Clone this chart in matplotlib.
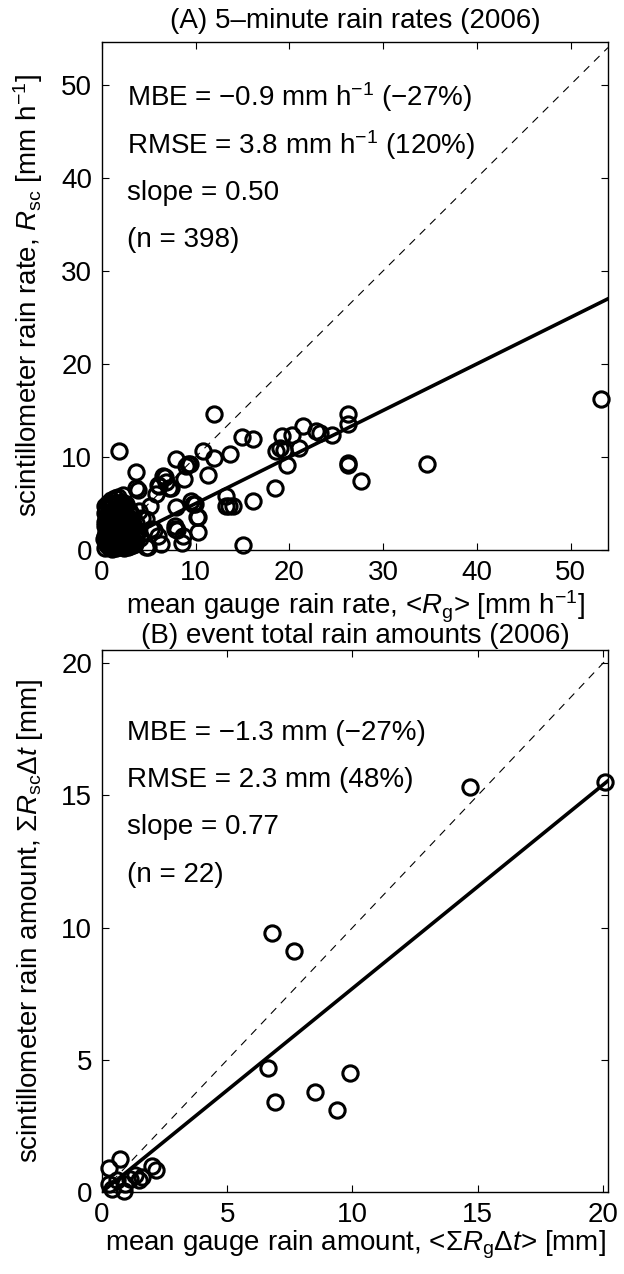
import numpy as np
import matplotlib
matplotlib.use('Agg')
import matplotlib.pyplot as plt

plt.rcParams['font.family'] = ['Liberation Sans', 'DejaVu Sans']
plt.rcParams['mathtext.fontset'] = 'custom'
plt.rcParams['mathtext.rm'] = 'Liberation Sans'
plt.rcParams['mathtext.it'] = 'Liberation Sans:italic'
plt.rcParams['axes.unicode_minus'] = True

# (A) 5-minute rain rates: gauge <Rg> vs scintillometer Rsc [mm/h]
rate_gauge = [
    # scattered points
    53.3, 34.7, 27.6, 26.3, 26.3, 26.3, 26.3, 24.5, 23.3, 22.8, 21.5, 21.0,
    20.3, 19.7, 19.4, 19.2, 19.0, 18.6, 18.5, 16.1, 16.1, 15.0, 14.9, 14.0,
    13.7, 13.6, 13.2, 13.2, 12.0, 11.9, 11.3, 10.8, 10.25, 10.25, 10.1, 9.9,
    9.7, 9.5, 9.4, 9.2, 9.0, 8.8, 8.6, 8.5, 8.0, 7.9, 7.9, 7.75, 7.75, 7.4,
    7.2, 6.8, 6.7, 6.5, 6.3, 6.1, 6.0, 6.0, 5.8, 5.6, 5.25, 5.1, 4.9, 4.7,
    4.7, 3.8, 3.6, 3.6, 1.85, 1.7,
    # dense cluster near the origin
    0.3, 0.7, 1.1, 1.5, 1.9, 2.3, 2.8, 3.3,
    0.5, 0.9, 1.3, 1.7, 2.1, 2.6, 3.0, 3.5,
    0.4, 0.9, 1.3, 1.8, 2.2, 2.7, 3.1, 3.6,
    0.2, 0.6, 1.0, 1.5, 1.9, 2.4, 2.9, 3.4,
    0.3, 0.6, 1.0, 1.4, 1.9, 2.4, 2.9, 3.5,
    0.4, 0.8, 1.2, 1.6, 2.0, 2.5, 3.0, 3.7,
    0.5, 0.9, 1.2, 1.7, 2.1, 2.6, 3.2, 3.8,
    0.3, 0.7, 1.1, 1.5, 2.0, 2.4, 2.9, 3.4,
    0.3, 0.7, 1.1, 1.6, 2.0, 2.5, 3.0, 3.6,
    0.4, 0.8, 1.2, 1.7, 2.1, 2.6, 3.1,
    0.5, 0.9, 1.3, 1.8, 2.2, 2.8, 3.3,
    0.3, 0.7, 1.0, 1.5, 2.0, 2.5, 3.0,
    0.4, 0.8, 1.2, 1.7, 2.3, 2.9,
    0.3, 0.7, 1.1, 1.5, 2.0, 2.4,
    0.6, 1.1, 1.6, 2.1, 2.6, 1.4, 2.2, 1.0, 4.1, 4.3, 3.9,
]
rate_scint = [
    16.2, 9.2, 7.4, 14.6, 13.5, 9.4, 9.1, 12.4, 12.6, 12.8, 13.3, 11.0,
    12.4, 9.1, 10.8, 12.25, 11.0, 10.6, 6.7, 11.9, 5.3, 0.57, 12.1, 4.75,
    10.3, 4.75, 5.8, 4.75, 14.6, 9.9, 8.1, 10.6, 3.5, 1.9, 3.5, 4.9,
    4.9, 5.3, 9.2, 9.2, 9.0, 7.6, 1.5, 0.8, 2.1, 9.75, 4.6, 2.25, 2.6, 6.7,
    6.7, 7.3, 7.8, 8.0, 0.64, 6.9, 7.0, 1.5, 6.0, 2.1, 2.25, 4.75, 0.3, 3.3,
    0.3, 6.5, 8.4, 6.7, 10.6, 5.65,
    0.2, 0.3, 0.1, 0.2, 0.3, 0.2, 0.3, 0.5,
    0.5, 0.6, 0.4, 0.5, 0.6, 0.5, 0.4, 0.6,
    0.8, 0.9, 0.7, 0.8, 0.9, 0.8, 0.7, 1.2,
    1.2, 1.1, 1.2, 1.1, 1.2, 1.1, 1.2, 1.0,
    1.5, 1.4, 1.6, 1.5, 1.4, 1.6, 1.5, 1.6,
    1.9, 1.8, 1.9, 1.8, 1.9, 1.8, 1.9, 1.8,
    2.2, 2.3, 2.1, 2.2, 2.3, 2.2, 2.1, 2.0,
    2.6, 2.6, 2.5, 2.6, 2.5, 2.6, 2.5, 2.6,
    3.0, 2.9, 3.1, 3.0, 2.9, 3.1, 3.0, 2.9,
    3.3, 3.4, 3.3, 3.4, 3.3, 3.4, 3.3,
    3.7, 3.8, 3.6, 3.7, 3.8, 3.6, 3.7,
    4.0, 4.1, 4.0, 4.1, 4.0, 4.1, 4.0,
    4.4, 4.5, 4.3, 4.4, 4.5, 4.3,
    4.7, 4.8, 4.7, 4.8, 4.7, 4.8,
    5.0, 5.1, 5.0, 5.2, 4.9, 5.6, 5.9, 5.4, 1.3, 3.4, 4.2,
]
slope_a = 0.50

# (B) event total rain amounts [mm]
amount_gauge = [20.1, 14.7, 6.8, 7.65, 6.64, 6.9, 8.5, 9.4, 9.9,
                0.73, 0.26, 2.0, 2.14, 1.33, 1.13, 1.47, 0.26, 0.39, 0.86,
                0.93, 0.6, 1.6]
amount_scint = [15.5, 15.3, 9.8, 9.1, 4.7, 3.4, 3.8, 3.1, 4.5,
                1.25, 0.91, 0.98, 0.84, 0.64, 0.5, 0.44, 0.3, 0.1, 0.04,
                0.3, 0.45, 0.55]
slope_b = 0.77

stats_a = [r'MBE = −0.9 mm h$^{-1}$ (−27%)',
           r'RMSE = 3.8 mm h$^{-1}$ (120%)',
           'slope = 0.50',
           '(n = 398)']
stats_b = ['MBE = −1.3 mm (−27%)',
           'RMSE = 2.3 mm (48%)',
           'slope = 0.77',
           '(n = 22)']

fs = 20
W, H = 624, 1274
fig = plt.figure(figsize=(W / 100, H / 100), dpi=100)


def box(l, t, r, b):
    return [l / W, 1 - b / H, (r - l) / W, (b - t) / H]


ax1 = fig.add_axes(box(102, 42, 608, 550))
ax2 = fig.add_axes(box(102, 650, 608, 1192))


def panel(ax, x, y, slope, lim_x, lim_y, ticks, stats, text_y):
    ax.plot([0, lim_x], [0, lim_x], color='k', lw=0.8, ls=(0, (7, 6)))
    ax.plot(x, y, 'o', mfc='none', mec='k', ms=11, mew=2.2, clip_on=False)
    ax.plot([0, lim_x], [0, slope * lim_x], color='k', lw=2.6)
    ax.set_xlim(0, lim_x)
    ax.set_ylim(0, lim_y)
    ax.set_xticks(ticks)
    ax.set_yticks(ticks)
    ax.tick_params(direction='in', top=True, right=True, labelsize=fs,
                   length=5, width=0.8, pad=7)
    for s in ax.spines.values():
        s.set_linewidth(1.0)
    for txt, ty in zip(stats, text_y):
        ax.text(0.05, ty, txt, transform=ax.transAxes, fontsize=fs, va='center')


panel(ax1, rate_gauge, rate_scint, slope_a, 54.0, 54.6, range(0, 51, 10),
      stats_a, [0.892, 0.797, 0.703, 0.61])
ax1.set_title('(A) 5–minute rain rates (2006)', fontsize=fs, pad=10)
ax1.set_xlabel(r'mean gauge rain rate, <$\mathit{R}_{\rm g}$> [mm h$^{-1}$]', fontsize=fs, labelpad=2)
ax1.set_ylabel(r'scintillometer rain rate, $\mathit{R}_{\rm sc}$ [mm h$^{-1}$]', fontsize=fs, labelpad=12)

panel(ax2, amount_gauge, amount_scint, slope_b, 20.2, 20.5, range(0, 21, 5),
      stats_b, [0.847, 0.76, 0.673, 0.585])
ax2.set_title('(B) event total rain amounts (2006)', fontsize=fs, pad=5)
ax2.set_xlabel(r'mean gauge rain amount, <$\Sigma\mathit{R}_{\rm g}\Delta\mathit{t}$> [mm]', fontsize=fs, labelpad=1)
ax2.set_ylabel(r'scintillometer rain amount, $\Sigma\mathit{R}_{\rm sc}\Delta\mathit{t}$ [mm]', fontsize=fs, labelpad=12)

fig.savefig('out.png', dpi=100)
